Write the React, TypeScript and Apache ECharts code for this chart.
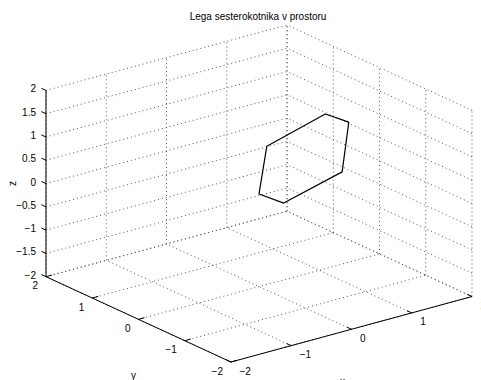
import { useEffect, useRef } from "react";
import * as echarts from "echarts";

// ---- data ----
const chartTitle = "Lega sesterokotnika v prostoru";
const xTicks = [-2, -1, 0, 1, 2];
const yTicks = [-2, -1, 0, 1, 2];
const zTicks = [-2, -1.5, -1, -0.5, 0, 0.5, 1, 1.5, 2];
const xTickLabels = ["−2", "−1", "0", "1", "2"];
const yTickLabels = ["−2", "−1", "0", "1", "2"];
const zTickLabels = ["−2", "−1.5", "−1", "−0.5", "0", "0.5", "1", "1.5", "2"];
const xLimits = [-2, 2];
const yLimits = [-2, 2];
const zLimits = [-2, 2];
// hexagon vertices (closed by repeating the first)
const hexX = [1.1, 1.49, 1.38, 0.41, 0.0, 0.13, 1.1];
const hexY = [0, 0, 0, 0, 0, 0, 0];
const hexZ = [1.32, 1.01, -0.02, -0.35, -0.01, 0.97, 1.32];
const azimuthDeg = -37.5;
const elevationDeg = 30;

const FONT = "Liberation Sans, Arial, Helvetica, sans-serif";

function project(x: number, y: number, z: number): [number, number] {
  const az = (azimuthDeg * Math.PI) / 180;
  const el = (elevationDeg * Math.PI) / 180;
  const u = x * Math.cos(az) + y * Math.sin(az);
  const v = -x * Math.sin(el) * Math.sin(az) + y * Math.sin(el) * Math.cos(az) + z * Math.cos(el);
  return [u, v];
}

export default function App() {
  const ref = useRef<HTMLDivElement>(null);
  useEffect(() => {
    if (!ref.current) return;
    const chart = echarts.init(ref.current, undefined, { renderer: "svg" });
    const [x0, x1] = xLimits;
    const [y0, y1] = yLimits;
    const [z0, z1] = zLimits;

    // box extents in projected coordinates
    let uMax = 0, vMax = 0;
    for (const x of xLimits) for (const y of yLimits) for (const z of zLimits) {
      const [u, v] = project(x, y, z);
      uMax = Math.max(uMax, Math.abs(u));
      vMax = Math.max(vMax, Math.abs(v));
    }

    type Seg = [number, number, number, number];
    const seg = (a: number[], b: number[]): Seg => {
      const p = project(a[0], a[1], a[2]);
      const q = project(b[0], b[1], b[2]);
      return [p[0], p[1], q[0], q[1]];
    };

    const gridSegs: Seg[] = [];
    // back wall y = y1
    xTicks.forEach((x) => gridSegs.push(seg([x, y1, z0], [x, y1, z1])));
    zTicks.forEach((z) => gridSegs.push(seg([x0, y1, z], [x1, y1, z])));
    // side wall x = x1
    yTicks.forEach((y) => gridSegs.push(seg([x1, y, z0], [x1, y, z1])));
    zTicks.forEach((z) => gridSegs.push(seg([x1, y0, z], [x1, y1, z])));
    // floor z = z0
    xTicks.forEach((x) => gridSegs.push(seg([x, y0, z0], [x, y1, z0])));
    yTicks.forEach((y) => gridSegs.push(seg([x0, y, z0], [x1, y, z0])));

    const axisSegs: Seg[] = [
      seg([x0, y1, z0], [x0, y1, z1]),
      seg([x0, y0, z0], [x0, y1, z0]),
      seg([x0, y0, z0], [x1, y0, z0]),
    ];
    const tl = 0.1;
    xTicks.forEach((x) => axisSegs.push(seg([x, y0, z0], [x, y0 + tl, z0])));
    yTicks.forEach((y) => axisSegs.push(seg([x0, y, z0], [x0 + tl, y, z0])));
    zTicks.forEach((z) => axisSegs.push(seg([x0, y1, z], [x0, y1 + tl, z])));

    type Lab = { p: [number, number]; text: string; dx: number; dy: number; align: string; rot?: number };
    const labels: Lab[] = [];
    zTicks.forEach((z, i) => labels.push({ p: project(x0, y1, z), text: zTickLabels[i], dx: -10, dy: -1.5, align: "right" }));
    yTicks.forEach((y, i) => labels.push({ p: project(x0, y, z0), text: yTickLabels[i], dx: -8, dy: 9, align: "right" }));
    xTicks.forEach((x, i) => labels.push({ p: project(x, y0, z0), text: xTickLabels[i], dx: 8.5, dy: 9, align: "left" }));
    labels.push({ p: project(x0, y1, (z0 + z1) / 2), text: "z", dx: -34, dy: 0, align: "center", rot: Math.PI / 2 });
    labels.push({ p: project(x0, (y0 + y1) / 2, z0), text: "y", dx: -5, dy: 56, align: "center" });
    labels.push({ p: project((x0 + x1) / 2, y0, z0), text: "x", dx: -9, dy: 52, align: "center" });

    const segRender = (dash: boolean, color: string) => (params: any, api: any) => {
      const a = api.coord([api.value(0), api.value(1)]);
      const b = api.coord([api.value(2), api.value(3)]);
      return {
        type: "line",
        shape: { x1: a[0], y1: a[1], x2: b[0], y2: b[1] },
        style: { stroke: color, lineWidth: 1, lineDash: dash ? [1, 3] : null, fill: null },
        silent: true,
      };
    };

    const hexData = hexX.map((x, i) => project(x, hexY[i], hexZ[i]));

    chart.setOption({
      animation: false,
      backgroundColor: "#fff",
      grid: { left: 46, right: 9, top: 25, bottom: 18 },
      xAxis: { type: "value", min: -uMax, max: uMax, show: false },
      yAxis: { type: "value", min: -vMax, max: vMax, show: false },
      graphic: [
        {
          type: "text",
          x: 258,
          y: 16,
          style: { text: chartTitle, font: `10px ${FONT}`, fill: "#000", align: "center", verticalAlign: "middle" },
        },
      ],
      series: [
        {
          type: "custom",
          renderItem: segRender(true, "#555"),
          data: gridSegs,
          clip: false,
          silent: true,
          z: 1,
        },
        {
          type: "custom",
          renderItem: segRender(false, "#000"),
          data: axisSegs,
          clip: false,
          silent: true,
          z: 3,
        },
        {
          type: "line",
          data: hexData,
          showSymbol: false,
          symbol: "none",
          lineStyle: { color: "#000", width: 1.2 },
          silent: true,
          z: 4,
        },
        {
          type: "custom",
          data: labels.map((l) => l.p),
          clip: false,
          silent: true,
          z: 5,
          renderItem: (params: any, api: any) => {
            const l = labels[params.dataIndex];
            const c = api.coord([api.value(0), api.value(1)]);
            return {
              type: "text",
              x: c[0] + l.dx,
              y: c[1] + l.dy,
              rotation: l.rot || 0,
              style: { text: l.text, font: `10px ${FONT}`, fill: "#000", align: l.align, verticalAlign: "middle" },
            };
          },
        },
      ],
    });
    return () => chart.dispose();
  }, []);
  return <div ref={ref} style={{ position: "absolute", left: 0, top: 0, width: 481, height: 380 }} />;
}
